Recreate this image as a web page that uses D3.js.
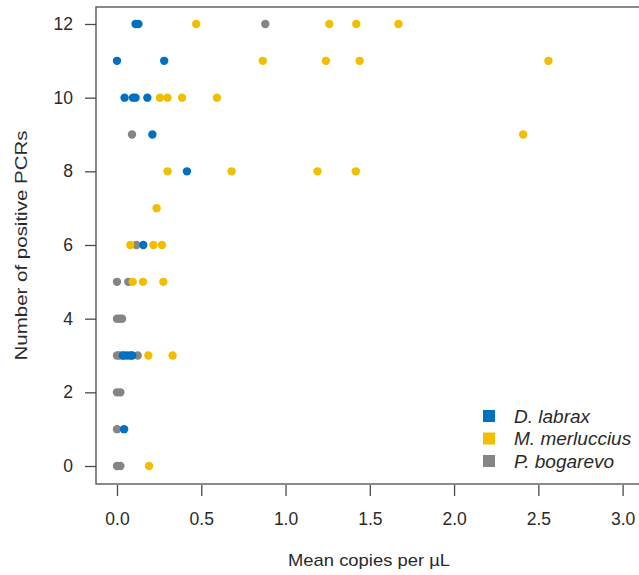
<!DOCTYPE html>
<html>
<head>
<meta charset="utf-8">
<script src="https://cdn.jsdelivr.net/npm/d3@7"></script>
<style>
  html, body { margin: 0; padding: 0; background: #fff; }
  svg { display: block; font-family: "Liberation Sans", Arial, sans-serif; }
</style>
</head>
<body>
<svg id="chart" width="639" height="575"></svg>
<script>
// ---- data ----
const species = ["D. labrax", "M. merluccius", "P. bogarevo"];
const speciesColors = ["#0070C0", "#F2BE00", "#858585"];

const labraxX = [0.11, 0.127, 0.0, 0.28, 0.045, 0.095, 0.11, 0.18, 0.21, 0.415, 0.156, 0.035, 0.06, 0.08, 0.09, 0.042];
const labraxY = [12, 12, 11, 11, 10, 10, 10, 10, 9, 8, 6, 3, 3, 3, 3, 1];

const merlucciusX = [0.47, 1.26, 1.42, 1.67, 0.865, 1.24, 1.44, 2.56, 0.255, 0.30, 0.386, 0.593, 2.41, 0.30, 0.68, 1.19, 1.417, 0.235, 0.079, 0.216, 0.267, 0.093, 0.154, 0.275, 0.186, 0.33, 0.19];
const merlucciusY = [12, 12, 12, 12, 11, 11, 11, 11, 10, 10, 10, 10, 9, 8, 8, 8, 8, 7, 6, 6, 6, 5, 5, 5, 3, 3, 0];

const bogarevoX = [0.88, 0.089, 0.115, 0.0, 0.067, 0.0, 0.015, 0.03, 0.0, 0.015, 0.04, 0.123, 0.0, 0.02, 0.0, 0.0, 0.02];
const bogarevoY = [12, 9, 6, 5, 5, 4, 4, 4, 3, 3, 3, 3, 2, 2, 1, 0, 0];

const xTicks = [0, 0.5, 1.0, 1.5, 2.0, 2.5, 3.0];
const yTicks = [0, 2, 4, 6, 8, 10, 12];
const xTitle = "Mean copies per \u00B5L";
const yTitle = "Number of positive PCRs";

// ---- layout ----
const svg = d3.select("#chart");
const frame = { left: 96, top: 7, right: 642, bottom: 484 };
const x = d3.scaleLinear().domain([0, 3]).range([117, 622.6]);
const y = d3.scaleLinear().domain([0, 12]).range([466, 24]);
const textColor = "#2a2a2a";

// frame box
svg.append("rect")
  .attr("x", frame.left).attr("y", frame.top)
  .attr("width", frame.right - frame.left).attr("height", frame.bottom - frame.top)
  .attr("fill", "none").attr("stroke", "#4a4a4a").attr("stroke-width", 1.3);

// x axis
const gx = svg.append("g").attr("transform", `translate(0,${frame.bottom + 1})`)
  .call(d3.axisBottom(x).tickValues(xTicks).tickFormat(d3.format(".1f")).tickSize(11).tickPadding(17));
gx.select(".domain").remove();
gx.selectAll(".tick line").attr("stroke", "#4a4a4a").attr("stroke-width", 1.3);
gx.selectAll(".tick text").attr("font-size", "17.5px").attr("fill", textColor)
  .attr("font-family", "Liberation Sans, Arial, sans-serif");

// y axis
const gy = svg.append("g").attr("transform", `translate(${frame.left},0)`)
  .call(d3.axisLeft(y).tickValues(yTicks).tickFormat(d3.format("d")).tickSize(11).tickPadding(12));
gy.select(".domain").remove();
gy.selectAll(".tick line").attr("stroke", "#4a4a4a").attr("stroke-width", 1.3);
gy.selectAll(".tick text").attr("font-size", "17.5px").attr("fill", textColor)
  .attr("font-family", "Liberation Sans, Arial, sans-serif");

// titles
svg.append("text")
  .attr("x", (frame.left + frame.right) / 2).attr("y", 566)
  .attr("text-anchor", "middle").attr("font-size", "17px").attr("fill", textColor)
  .attr("textLength", 162).attr("lengthAdjust", "spacingAndGlyphs")
  .text(xTitle);

svg.append("text")
  .attr("transform", `translate(27,${(frame.top + frame.bottom) / 2}) rotate(-90)`)
  .attr("text-anchor", "middle").attr("font-size", "17px").attr("fill", textColor)
  .attr("textLength", 230).attr("lengthAdjust", "spacingAndGlyphs")
  .text(yTitle);

// points (drawn in order: P. bogarevo, M. merluccius, D. labrax)
const sets = [
  { xs: bogarevoX, ys: bogarevoY, c: speciesColors[2] },
  { xs: merlucciusX, ys: merlucciusY, c: speciesColors[1] },
  { xs: labraxX, ys: labraxY, c: speciesColors[0] }
];
sets.forEach(s => {
  svg.append("g").selectAll("circle")
    .data(s.xs.map((v, i) => [v, s.ys[i]]))
    .join("circle")
    .attr("cx", d => x(d[0])).attr("cy", d => y(d[1]))
    .attr("r", 4.2).attr("fill", s.c);
});

// legend
const leg = svg.append("g");
species.forEach((name, i) => {
  const cy = 416 + i * 22.5;
  leg.append("rect").attr("x", 483).attr("y", cy - 6).attr("width", 12).attr("height", 12)
    .attr("fill", speciesColors[i]);
  leg.append("text").attr("x", 514).attr("y", cy).attr("dy", "0.35em")
    .attr("font-size", "19px").attr("font-style", "italic").attr("fill", textColor)
    .text(name);
});
</script>
</body>
</html>
